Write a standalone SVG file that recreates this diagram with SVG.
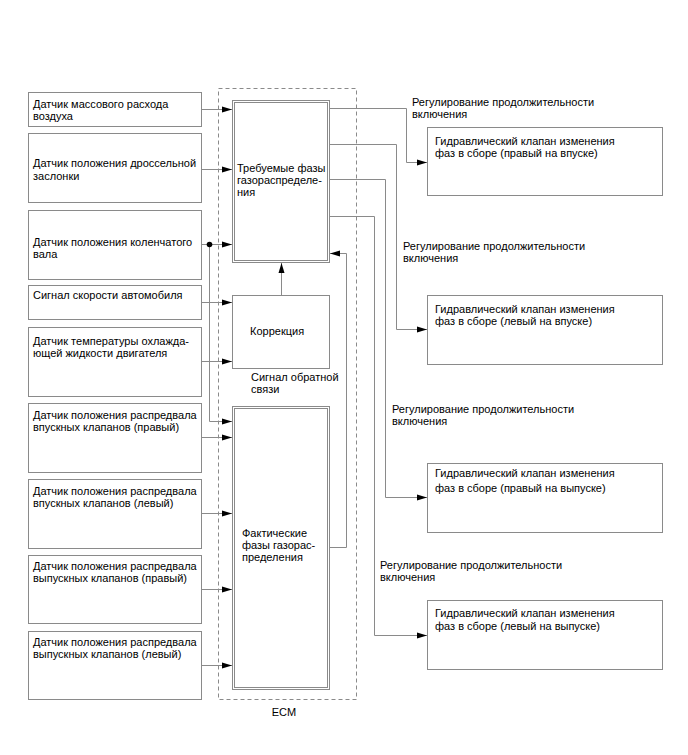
<svg xmlns="http://www.w3.org/2000/svg" width="688" height="755" viewBox="0 0 688 755">
<defs>
<marker id="ah" markerUnits="userSpaceOnUse" markerWidth="10" markerHeight="8" refX="10" refY="4" orient="auto">
<path d="M0,1 L10,4 L0,7 Z" fill="#000"/>
</marker>
<style>
.box{fill:#fff;stroke:#8a8a8a;stroke-width:1}
.dbl{fill:none;stroke:#8a8a8a;stroke-width:1}
.ln{fill:none;stroke:#8a8a8a;stroke-width:1}
.ar{fill:none;stroke:#8a8a8a;stroke-width:1;marker-end:url(#ah)}
.ecm{fill:none;stroke:#8a8a8a;stroke-width:1;stroke-dasharray:4,3}
text{font-family:"Liberation Sans",Arial,sans-serif;font-size:11px;fill:#000}
</style>
</defs>
<rect width="688" height="755" fill="#fff"/>

<g id="ecm">
<rect class="ecm" x="218.5" y="88.5" width="138" height="611"/>
<text x="284" y="716" text-anchor="middle">ECM</text>
</g>

<g id="s1"><rect class="box" x="28.5" y="92.5" width="173" height="34"/>
<text x="33" y="108">Датчик массового расхода</text><text x="33" y="120">воздуха</text></g>
<g id="s2"><rect class="box" x="28.5" y="133.5" width="173" height="69"/>
<text x="33" y="167">Датчик положения дроссельной</text><text x="33" y="180">заслонки</text></g>
<g id="s3"><rect class="box" x="28.5" y="210.5" width="173" height="69"/>
<text x="33" y="246">Датчик положения коленчатого</text><text x="33" y="258">вала</text></g>
<g id="s4"><rect class="box" x="28.5" y="285.5" width="173" height="34"/>
<text x="33" y="299">Сигнал скорости автомобиля</text></g>
<g id="s5"><rect class="box" x="28.5" y="327.5" width="173" height="69"/>
<text x="33" y="345">Датчик температуры охлажда-</text><text x="33" y="357">ющей жидкости двигателя</text></g>
<g id="s6"><rect class="box" x="28.5" y="403.5" width="173" height="69"/>
<text x="33" y="419">Датчик положения распредвала</text><text x="33" y="431">впускных клапанов (правый)</text></g>
<g id="s7"><rect class="box" x="28.5" y="479.5" width="173" height="69"/>
<text x="33" y="495">Датчик положения распредвала</text><text x="33" y="507">впускных клапанов (левый)</text></g>
<g id="s8"><rect class="box" x="28.5" y="555.5" width="173" height="68"/>
<text x="33" y="570">Датчик положения распредвала</text><text x="33" y="582">выпускных клапанов (правый)</text></g>
<g id="s9"><rect class="box" x="28.5" y="631.5" width="173" height="68"/>
<text x="33" y="646">Датчик положения распредвала</text><text x="33" y="658">выпускных клапанов (левый)</text></g>

<g id="target">
<rect class="dbl" x="232.5" y="100.5" width="97" height="162"/>
<rect class="dbl" x="234.5" y="102.5" width="93" height="158"/>
<text x="237" y="172">Требуемые фазы</text><text x="237" y="184">газораспределе-</text><text x="237" y="196">ния</text>
</g>
<g id="correction">
<rect class="box" x="232.5" y="295.5" width="97" height="73"/>
<text x="250" y="335">Коррекция</text>
</g>
<g id="actual">
<rect class="dbl" x="232.5" y="406.5" width="97" height="283"/>
<rect class="dbl" x="234.5" y="408.5" width="93" height="279"/>
<text x="242" y="537">Фактические</text><text x="242" y="549">фазы газорас-</text><text x="242" y="561">пределения</text>
</g>

<g id="r1"><rect class="box" x="427.5" y="127.5" width="235" height="68"/>
<text x="435" y="145">Гидравлический клапан изменения</text><text x="435" y="157">фаз в сборе (правый на впуске)</text></g>
<g id="r2"><rect class="box" x="427.5" y="295.5" width="235" height="69"/>
<text x="435" y="313">Гидравлический клапан изменения</text><text x="435" y="325">фаз в сборе (левый на впуске)</text></g>
<g id="r3"><rect class="box" x="427.5" y="463.5" width="235" height="69"/>
<text x="435" y="477">Гидравлический клапан изменения</text><text x="435" y="492">фаз в сборе (правый на выпуске)</text></g>
<g id="r4"><rect class="box" x="427.5" y="600.5" width="235" height="69"/>
<text x="435" y="617">Гидравлический клапан изменения</text><text x="435" y="630">фаз в сборе (левый на выпуске)</text></g>

<g id="labels">
<text x="412" y="106">Регулирование продолжительности</text><text x="412" y="118">включения</text>
<text x="403" y="250">Регулирование продолжительности</text><text x="403" y="262">включения</text>
<text x="392" y="413">Регулирование продолжительности</text><text x="392" y="425">включения</text>
<text x="380" y="569">Регулирование продолжительности</text><text x="380" y="581">включения</text>
<text x="251" y="381">Сигнал обратной</text><text x="251" y="393">связи</text>
</g>

<g id="connectors">
<path class="ar" d="M201,109.5 H232"/>
<path class="ar" d="M201,169.5 H232"/>
<path class="ar" d="M201,244.5 H232"/>
<path class="ar" d="M201,302.5 H232"/>
<path class="ar" d="M201,361.5 H232"/>
<path class="ar" d="M209.5,244.5 V421.5 H232"/>
<path class="ar" d="M201,437.5 H232"/>
<path class="ar" d="M201,513.5 H232"/>
<path class="ar" d="M201,589.5 H232"/>
<path class="ar" d="M201,665.5 H232"/>
<circle cx="209.5" cy="244.5" r="2.8" fill="#000"/>
<path class="ar" d="M281.5,295 V263"/>
<path class="ar" d="M330,547.5 H346.5 V253.5 H330"/>
<path class="ar" d="M330,108.5 H406.5 V162.5 H427"/>
<path class="ar" d="M330,144.5 H396.5 V329.5 H427"/>
<path class="ar" d="M330,179.5 H385.5 V497.5 H427"/>
<path class="ar" d="M330,216.5 H374.5 V635.5 H427"/>
</g>
</svg>
